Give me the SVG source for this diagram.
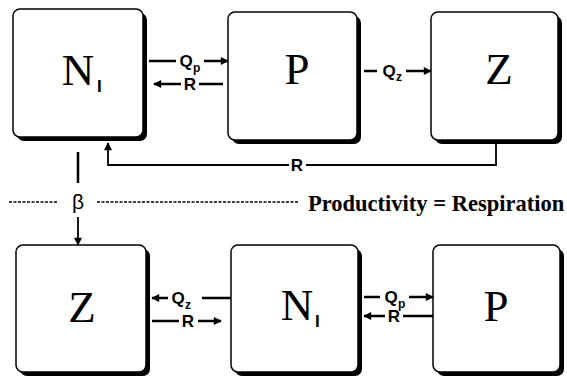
<svg xmlns="http://www.w3.org/2000/svg" width="567" height="379" viewBox="0 0 567 379">
<defs>
<marker id="ah" viewBox="0 0 10 10" refX="9" refY="5" markerWidth="9" markerHeight="8" markerUnits="userSpaceOnUse" orient="auto">
<path d="M0,0 L10,5 L0,10 Z" fill="#000"/>
</marker>
</defs>
<style>
.sh{fill:#000}
.bx{fill:#fff;stroke:#000;stroke-width:1.5}
.big{font-family:"Liberation Serif",serif;font-size:45px;text-anchor:middle;fill:#000}
.sub{font-family:"Liberation Sans",sans-serif;font-weight:bold;font-size:17px;fill:#000}
.lbl{font-family:"Liberation Sans",sans-serif;font-weight:bold;font-size:17px;text-anchor:middle;fill:#000}
.ls{font-family:"Liberation Sans",sans-serif;font-weight:bold;font-size:12px;fill:#000}
.ln{fill:none;stroke:#000;stroke-width:2.5}
.thin{fill:none;stroke:#000;stroke-width:1.8}
.dash{fill:none;stroke:#000;stroke-width:1.5;stroke-dasharray:3,1.5}
</style>
<rect width="567" height="379" fill="#fff"/>
<g id="n1-top">
<rect class="sh" x="17" y="13" width="130" height="128" rx="7"/>
<rect class="bx" x="13" y="9" width="130" height="128" rx="7"/>
<text class="big" x="78" y="85">N</text><text class="sub" x="97" y="92">I</text>
</g>
<g id="p-top">
<rect class="sh" x="232" y="16" width="129" height="128" rx="7"/>
<rect class="bx" x="228" y="12" width="129" height="128" rx="7"/>
<text class="big" x="297" y="84">P</text>
</g>
<g id="z-top">
<rect class="sh" x="435" y="16" width="127" height="128" rx="7"/>
<rect class="bx" x="431" y="12" width="127" height="128" rx="7"/>
<text class="big" x="499" y="84">Z</text>
</g>
<g id="z-bottom">
<rect class="sh" x="20" y="249" width="130" height="127" rx="7"/>
<rect class="bx" x="16" y="245" width="130" height="127" rx="7"/>
<text class="big" x="82" y="322">Z</text>
</g>
<g id="n1-bottom">
<rect class="sh" x="235" y="249" width="127" height="127" rx="7"/>
<rect class="bx" x="231" y="245" width="127" height="127" rx="7"/>
<text class="big" x="297" y="320">N</text><text class="sub" x="315" y="327">I</text>
</g>
<g id="p-bottom">
<rect class="sh" x="437" y="249" width="127" height="127" rx="7"/>
<rect class="bx" x="433" y="245" width="127" height="127" rx="7"/>
<text class="big" x="496" y="321">P</text>
</g>
<g id="connectors">
<path class="ln" d="M149,61 H176"/><path class="ln" d="M204,61 H228" marker-end="url(#ah)"/>
<text class="lbl" x="186" y="67">Q</text><text class="ls" x="193" y="72">p</text>
<path class="ln" d="M223,84 H199"/><path class="ln" d="M181,84 H154" marker-end="url(#ah)"/>
<text class="lbl" x="190" y="90">R</text>
<path class="ln" d="M364,71 H377"/><path class="ln" d="M406,71 H431" marker-end="url(#ah)"/>
<text class="lbl" x="389" y="77">Q</text><text class="ls" x="396" y="81">z</text>
<path class="thin" d="M496,143 V165 H306"/><path class="thin" d="M289,165 H108 V143" marker-end="url(#ah)"/>
<text class="lbl" x="297" y="171">R</text>
<path class="ln" d="M78,152 V183"/>
<path class="thin" d="M78,217 V245" marker-end="url(#ah)"/>
<text x="78" y="209" font-family="Liberation Sans,sans-serif" font-size="21" text-anchor="middle">β</text>
<path class="dash" d="M9,202 H57"/><path class="dash" d="M97,202 H298"/>
<text x="308" y="211" font-family="Liberation Serif,serif" font-weight="bold" font-size="22.5">Productivity = Respiration</text>
<path class="ln" d="M231,298 H202"/><path class="ln" d="M168,298 H152" marker-end="url(#ah)"/>
<text class="lbl" x="178" y="304">Q</text><text class="ls" x="185" y="309">z</text>
<path class="ln" d="M152,321 H179"/><path class="ln" d="M198,321 H221" marker-end="url(#ah)"/>
<text class="lbl" x="188" y="327">R</text>
<path class="ln" d="M364,297 H380"/><path class="ln" d="M409,297 H433" marker-end="url(#ah)"/>
<text class="lbl" x="391" y="303">Q</text><text class="ls" x="398" y="308">p</text>
<path class="ln" d="M433,316 H403"/><path class="ln" d="M385,316 H364" marker-end="url(#ah)"/>
<text class="lbl" x="394" y="322">R</text>
</g>
</svg>
